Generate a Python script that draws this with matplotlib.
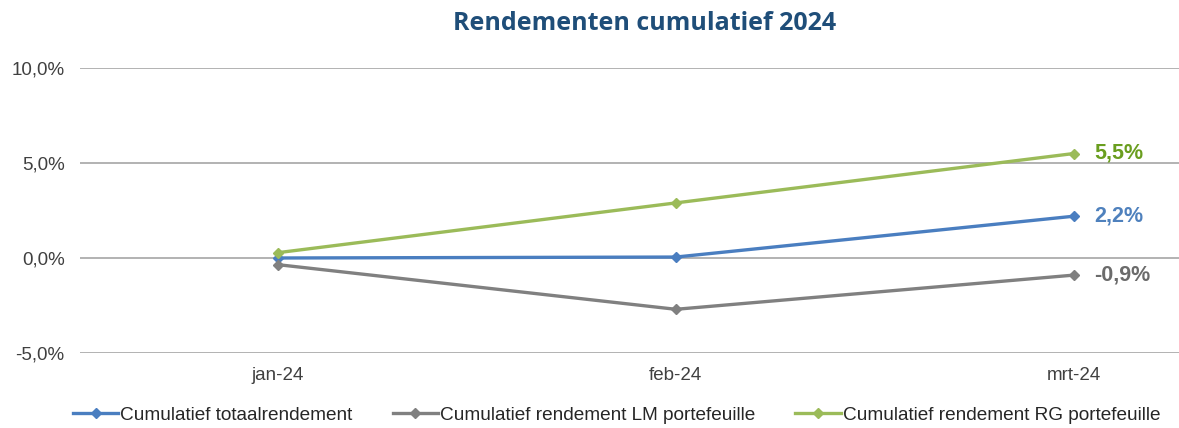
import matplotlib.pyplot as plt
from matplotlib.ticker import FuncFormatter

plt.rcParams['font.family'] = ['Liberation Sans', 'DejaVu Sans']

months = ['jan-24', 'feb-24', 'mrt-24']
totaal = [0.0, 0.05, 2.2]
lm = [-0.35, -2.7, -0.9]
rg = [0.28, 2.9, 5.5]

names = ['Cumulatief totaalrendement',
         'Cumulatief rendement LM portefeuille',
         'Cumulatief rendement RG portefeuille']
colors = ['#4A7EC0', '#808080', '#9BBB59']
label_colors = ['#4F81BD', '#6B6B6B', '#6A9E1F']

fig = plt.figure(figsize=(11.79, 4.28), dpi=100)
ax = fig.add_axes([80 / 1179, 1 - 353 / 428, 1 - 80 / 1179, (353 - 68) / 428])

x = range(len(months))
for vals, name, c, lc in zip([totaal, lm, rg], names, colors, label_colors):
    ax.plot(x, vals, color=c, lw=2.4, marker='D', markersize=5, label=name, zorder=3)
    ax.text(2 + 0.05, vals[-1], f"{vals[-1]:.1f}%".replace('.', ','),
            color=lc, fontsize=15.5, fontweight='bold', va='center', ha='left')

ax.set_ylim(-5, 10)
ax.set_yticks([-5, 0, 5, 10])
ax.yaxis.set_major_formatter(FuncFormatter(lambda v, p: f"{v:.1f}%".replace('.', ',')))
ax.set_xlim(-0.497, 2.264)
ax.set_xticks(list(x))
ax.set_xticklabels(months)
ax.grid(axis='y', color='#A6A6A6', lw=1.2)
ax.set_axisbelow(True)
for s in ax.spines.values():
    s.set_visible(False)
ax.tick_params(length=0, labelsize=13.5, colors='#404040')
ax.tick_params(axis='y', pad=11)
ax.tick_params(axis='x', pad=10)

fig.text(0.547, 1 - 23 / 428, 'Rendementen cumulatief 2024', ha='center', va='center',
         fontsize=18, fontweight='bold', color='#1F4E79', family=['Open Sans', 'DejaVu Sans'])

fig.legend(loc='center', bbox_to_anchor=(0.523, 1 - 415 / 428), ncol=3, frameon=False,
           fontsize=13.7, handlelength=2.4, handletextpad=0.1, columnspacing=2.1,
           labelcolor='#262626')

fig.savefig('out.png', dpi=100)
